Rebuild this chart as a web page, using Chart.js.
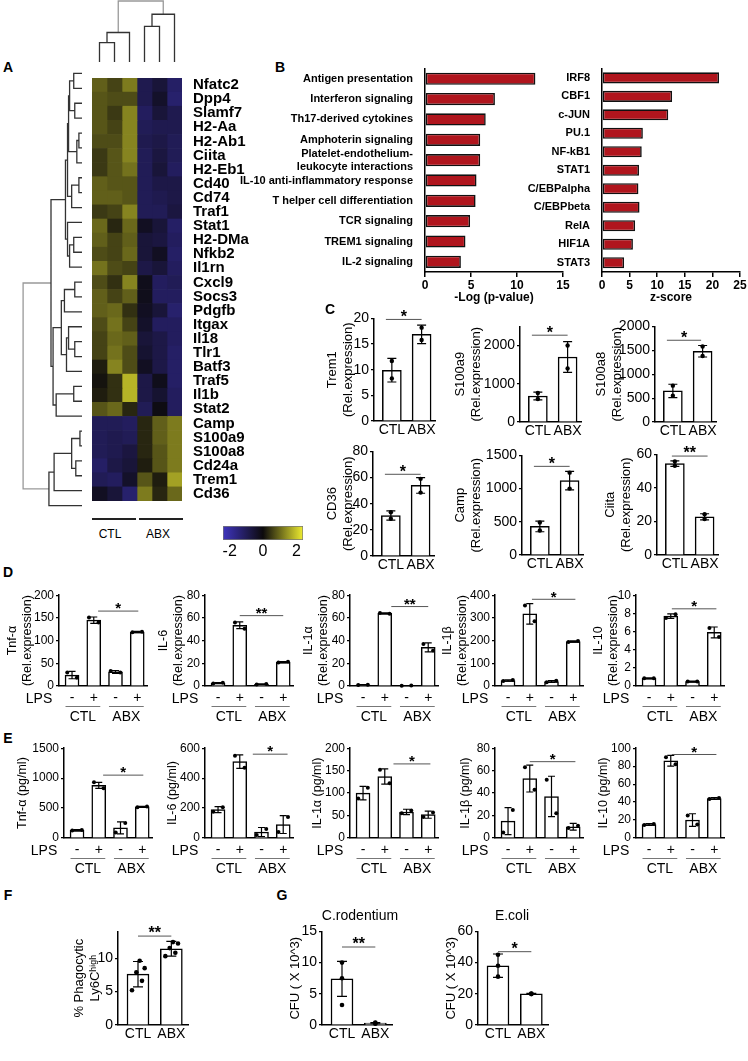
<!DOCTYPE html>
<html>
<head>
<meta charset="utf-8">
<script src="https://cdn.jsdelivr.net/npm/chart.js@4.4.1/dist/chart.umd.min.js"></script>
<style>
  body { margin: 0; width: 748px; height: 1061px; position: relative; background: #fff; overflow: hidden; font-family: Arial, "Liberation Sans", sans-serif; }
  .t { position: absolute; transform: translate(-50%, -50%); white-space: nowrap; color: #000; }
  .hl { position: absolute; height: 0; border-top: 2px solid #222; }
</style>
</head>
<body>
<script>
// ---------- panel A: heatmap ----------
const genes = ['Nfatc2','Dpp4','Slamf7','H2-Aa','H2-Ab1','Ciita','H2-Eb1','Cd40','Cd74','Traf1',
  'Stat1','H2-DMa','Nfkb2','Il1rn','Cxcl9','Socs3','Pdgfb','Itgax','Il18','Tlr1','Batf3',
  'Traf5','Il1b','Stat2','Camp','S100a9','S100a8','Cd24a','Trem1','Cd36'];
const samples = ['CTL1','CTL2','CTL3','ABX1','ABX2','ABX3'];
const zScores = [
  [0.9,0.6,1.2,-0.9,-0.6,-1.2],[0.8,0.7,0.7,-0.9,-0.4,-1.3],[0.8,0.5,1.3,-1.1,-0.6,-0.9],
  [0.8,0.6,1.3,-1.0,-0.9,-0.9],[0.7,0.7,1.3,-0.9,-0.8,-1.0],[0.5,0.8,1.3,-1.0,-0.7,-1.0],
  [0.5,0.8,1.1,-1.0,-0.6,-1.1],[0.9,0.8,0.8,-1.0,-0.8,-0.8],[0.9,0.9,0.8,-1.0,-0.9,-0.8],
  [0.5,0.6,1.3,-1.0,-1.0,-0.7],[1.0,0.3,1.0,-0.3,-0.6,-1.2],[0.9,0.6,0.9,-0.6,-0.7,-1.1],
  [0.7,0.6,1.0,-0.6,-0.3,-1.2],[1.1,0.7,0.6,-0.8,-0.6,-1.1],[0.7,0.4,1.3,-0.2,-1.1,-1.0],
  [0.9,0.6,0.9,-0.2,-1.1,-1.1],[0.9,1.0,0.4,-0.3,-0.6,-1.3],[0.7,1.1,0.6,-0.4,-1.1,-1.1],
  [0.6,1.0,0.9,-0.6,-0.8,-1.1],[0.6,1.1,0.7,-0.5,-0.8,-1.2],[0.2,1.3,0.7,-0.3,-0.8,-1.2],
  [0.1,0.4,1.8,-0.8,-0.2,-1.2],[0.2,0.4,1.8,-0.8,-0.5,-1.1],[0.8,1.0,0.3,-1.0,-0.1,-1.1],
  [-1.0,-1.0,-1.1,0.3,0.9,1.2],[-1.0,-0.9,-1.0,0.3,0.9,1.2],[-1.0,-0.9,-0.7,0.3,0.8,1.2],
  [-1.2,-0.8,-0.6,0.2,0.8,1.2],[-1.0,-1.1,-0.4,0.8,0.2,1.6],[-0.3,-0.6,-1.3,1.2,0.3,1.0]
];
// [left, right, height] nodes, leaves are row / column indices
const geneTree = [
  [
    [[[[[0,1,8],[2,3,7],12],[[4,5,3],6,5],13],[[7,8,3],9,10],14],[10,[[11,12,8],13,12],14],16],
    [[[[14,15,7],16,17],[[17,[18,19,7],13],20,15],20],[[21,22,8],23,25],28],
    30
  ],
  [[[[24,25,2],[26,27,6],10],28,27],29,32],
  57
];
const sampleTree = [[[0,1,19],2,29],[[3,4,35],5,47],60];
const zTicks = [-2, 0, 2];
const zRange = [-2.4, 2.4];

// ---------- panel B ----------
const pathways = ['Antigen presentation','Interferon signaling','Th17-derived cytokines','Amphoterin signaling',
  ['Platelet-endothelium-','leukocyte interactions'],'IL-10 anti-inflammatory response',
  'T helper cell differentiation','TCR signaling','TREM1 signaling','IL-2 signaling'];
const pathwayLogP = [12.0, 7.6, 6.6, 6.0, 6.0, 5.6, 5.5, 4.9, 4.4, 3.9];
const regulators = ['IRF8','CBF1','c-JUN','PU.1','NF-kB1','STAT1','C/EBPalpha','C/EBPbeta','RelA','HIF1A','STAT3'];
const regulatorZ = [21.2, 12.7, 12.0, 7.4, 7.2, 6.7, 6.6, 6.8, 6.0, 5.6, 4.0];

// ---------- panel C ----------
const groups2 = ['CTL','ABX'];
const trem1Mean = [9.9, 16.9], trem1Sd = [2.3, 1.8], trem1Dots = [[11.7, 8.3], [18.2, 15.8]];
const s100a9Mean = [680, 1700], s100a9Sd = [100, 400], s100a9Dots = [[760, 600], [2000, 1400]];
const s100a8Mean = [650, 1480], s100a8Sd = [140, 120], s100a8Dots = [[760, 550], [1580, 1380]];
const cd36Mean = [31, 54], cd36Sd = [3.5, 6], cd36Dots = [[33.5, 28.5], [59, 48.5]];
const campMean = [430, 1120], campSd = [80, 140], campDots = [[490, 370], [1240, 1000]];
const ciitaMean = [54.5, 22.8], ciitaSd = [1.6, 1.8], ciitaDots = [[55.8, 53.2], [24.3, 21.5]];

// ---------- panel D (qPCR, LPS) ----------
const lpsTicks = ['-','+','-','+'];
const dTnfMean = [24, 145, 31, 119], dTnfSd = [8, 7, 3, 1.5], dTnfDots = [[30, 18], [151, 140], [33, 30], [118.5, 119.5]];
const dIl6Mean = [2.5, 53.5, 1.5, 21], dIl6Sd = [0.5, 3, 0.3, 0.6], dIl6Dots = [[2.2, 2.8], [56, 50.5], [1.3, 1.7], [20.6, 21.4]];
const dIl1aMean = [1, 64, 0.3, 34], dIl1aSd = [0.3, 0.5, 0.1, 4], dIl1aDots = [[0.8, 1.2], [64.3, 63.7], [0.2, 0.4], [37, 31]];
const dIl1bMean = [24, 318, 20, 196], dIl1bSd = [3, 45, 4, 3], dIl1bDots = [[22, 26], [355, 285], [17, 23], [194, 198]];
const dIl10Mean = [0.85, 7.7, 0.5, 5.9], dIl10Sd = [0.05, 0.25, 0.05, 0.6], dIl10Dots = [[0.85, 0.85], [7.5, 7.9], [0.5, 0.5], [6.4, 5.4]];

// ---------- panel E (ELISA) ----------
const eTnfMean = [130, 880, 170, 520], eTnfSd = [10, 50, 100, 10], eTnfDots = [[125, 135], [930, 830], [90, 250], [515, 525]];
const eIl6Mean = [190, 510, 40, 90], eIl6Sd = [20, 45, 30, 60], eIl6Dots = [[175, 205], [550, 470], [20, 60], [40, 140]];
const eIl1aMean = [100, 137, 58, 52], eIl1aSd = [15, 17, 6, 8], eIl1aDots = [[88, 112], [152, 122], [55, 61], [47, 57]];
const eIl1bMean = [15, 53, 37, 10], eIl1bSd = [12, 12, 18, 3], eIl1bDots = [[5, 25], [63, 43], [52, 22], [9, 11]];
const eIl10Mean = [15, 86, 20, 44], eIl10Sd = [1, 6, 7, 1], eIl10Dots = [[14.5, 15.5], [90, 82], [25, 15], [43.5, 44.5]];

// ---------- panels F, G ----------
const fMean = [7.6, 11.4], fSd = [1.9, 1.1], fDots = [[5.2, 6.6, 7.9, 8.5, 9.6], [10.3, 10.8, 11.5, 12.2, 12.4]];
const crodMean = [7.4, 0.3], crodSd = [2.8, 0.1], crodDots = [[10, 7.5, 3.2], [0.2, 0.3, 0.4]];
const ecoliMean = [38, 20], ecoliSd = [7.5, 0.3], ecoliDots = [[45, 38, 31], [19.8, 20, 20.2]];

Chart.defaults.animation = false;
Chart.defaults.responsive = false;
Chart.defaults.devicePixelRatio = 1;
Chart.defaults.events = [];
Chart.defaults.font.family = 'Arial, "Liberation Sans", sans-serif';
Chart.defaults.font.size = 13;
Chart.defaults.color = '#000';
Chart.defaults.plugins.legend.display = false;
Chart.defaults.plugins.tooltip.enabled = false;

function canvasAt(l, t, w, h) {
  const c = document.createElement('canvas');
  c.width = w; c.height = h;
  c.style.cssText = `position:absolute;left:${l}px;top:${t}px;width:${w}px;height:${h}px`;
  document.body.appendChild(c);
  return c;
}
function text(s, x, y, css) {
  const d = document.createElement('div');
  d.className = 't';
  d.textContent = s;
  d.style.cssText = `left:${x}px;top:${y}px;${css || ''}`;
  document.body.appendChild(d);
}
function hline(x0, x1, y) {
  const d = document.createElement('div');
  d.className = 'hl';
  d.style.cssText = `left:${x0}px;top:${y}px;width:${x1 - x0}px`;
  document.body.appendChild(d);
}

// blue - black - yellow
function zColor(v) {
  const t = Math.max(-1, Math.min(1, v / 2.4));
  const lo = [12, 10, 12], neg = [62, 52, 190], pos = [238, 236, 48];
  const end = t < 0 ? neg : pos, a = Math.abs(t);
  return `rgb(${lo.map((c, i) => Math.round(c + (end[i] - c) * a)).join(',')})`;
}

// dendrogram -> line segments (NaN breaks the line)
function dendro(tree) {
  const inner = [], root = [];
  function walk(n, out) {
    if (typeof n === 'number') return { p: n, h: 0 };
    const a = walk(n[0], inner), b = walk(n[1], inner);
    out.push({ p: a.p, h: a.h }, { p: a.p, h: n[2] }, { p: b.p, h: n[2] }, { p: b.p, h: b.h }, { p: NaN, h: NaN });
    return { p: (a.p + b.p) / 2, h: n[2] };
  }
  walk(tree, root);
  return { inner, root };
}

function dendroChart(canvas, tree, rows, nLeaves, maxH) {
  const seg = dendro(tree);
  const map = pts => pts.map(q => rows ? { x: q.h, y: q.p } : { x: q.p, y: q.h });
  const ds = (pts, col) => ({ data: map(pts), showLine: true, pointRadius: 0, borderColor: col, borderWidth: 1.3, spanGaps: false, clip: false });
  const leafAxis = { display: false, min: -0.5, max: nLeaves - 0.5, reverse: rows };
  const hAxis = { display: false, min: 0, max: maxH, reverse: rows };
  new Chart(canvas, {
    type: 'scatter',
    data: { datasets: [ds(seg.inner, '#333'), ds(seg.root, '#999')] },
    options: { layout: { padding: 0 }, scales: rows ? { x: hAxis, y: leafAxis } : { x: leafAxis, y: hAxis } }
  });
}

// ---- A ----
text('A', 8, 67, 'font-weight:bold;font-size:14px');
dendroChart(canvasAt(20, 66, 62, 447), geneTree, true, genes.length, 60);
dendroChart(canvasAt(92, 0, 90, 62), sampleTree, false, samples.length, 61);

new Chart(canvasAt(92, 66, 170, 447), {
  type: 'bar',
  data: {
    labels: genes,
    datasets: samples.map((s, j) => ({
      label: s, data: genes.map(() => 1),
      backgroundColor: zScores.map(r => zColor(r[j])),
      borderWidth: 0, barPercentage: 1, categoryPercentage: 1
    }))
  },
  options: {
    indexAxis: 'y',
    layout: { padding: 0 },
    scales: {
      x: { stacked: true, display: false, min: 0, max: samples.length },
      y: { stacked: true, position: 'right', grid: { display: false }, border: { display: false },
           ticks: { font: { size: 15, weight: 'bold' }, padding: 3, autoSkip: false },
           afterFit: s => { s.width = 80; } }
    }
  }
});
hline(92, 136, 518); hline(139, 183, 518);
text('CTL', 110, 534, 'font-size:12px');
text('ABX', 158, 534, 'font-size:12px');

// colour key
new Chart(canvasAt(208, 526, 110, 38), {
  type: 'bar',
  data: {
    labels: [''],
    datasets: [{
      data: [zRange],
      backgroundColor: c => {
        const a = c.chart.chartArea;
        if (!a) return '#000';
        const g = c.chart.ctx.createLinearGradient(a.left, 0, a.right, 0);
        for (let i = 0; i <= 20; i++) g.addColorStop(i / 20, zColor(zRange[0] + (zRange[1] - zRange[0]) * i / 20));
        return g;
      },
      borderColor: '#777', borderWidth: 1, borderSkipped: false, barPercentage: 1, categoryPercentage: 1
    }]
  },
  options: {
    indexAxis: 'y',
    layout: { padding: { left: 15, right: 15 } },
    scales: {
      x: { min: zRange[0], max: zRange[1], afterBuildTicks: s => { s.ticks = zTicks.map(v => ({ value: v })); },
           ticks: { font: { size: 16 }, padding: 2 }, grid: { display: false, drawTicks: false }, border: { display: false },
           afterFit: s => { s.height = 24; } },
      y: { display: false }
    }
  }
});

// ---- B ----
text('B', 280, 67, 'font-weight:bold;font-size:14px');
function hbar(l, w, labels, values, max, title, axisW) {
  new Chart(canvasAt(l, 58, w, 248), {
    type: 'bar',
    data: { labels, datasets: [{ data: values, backgroundColor: '#b0151d', borderColor: '#111', borderWidth: 1.6,
      borderSkipped: false, barPercentage: 0.6, categoryPercentage: 1 }] },
    options: {
      indexAxis: 'y',
      layout: { padding: { top: 10, right: 8 } },
      scales: {
        x: { min: 0, max, ticks: { stepSize: 5, font: { size: 12, weight: 'bold' }, padding: 1 },
             grid: { drawOnChartArea: false, tickLength: 5, color: '#000', lineWidth: 1.5 },
             border: { color: '#000', width: 1.5 },
             title: { display: true, text: title, font: { size: 12, weight: 'bold' }, padding: { top: 0, bottom: 1 } },
             afterFit: s => { s.height = 34; } },
        y: { ticks: { font: { size: 11, weight: 'bold' }, padding: 4, autoSkip: false },
             grid: { display: false }, border: { color: '#000', width: 1.5 },
             afterFit: s => { s.width = axisW; } }
      }
    }
  });
}
hbar(240, 331, pathways, pathwayLogP, 15, '-Log (p-value)', 185);
hbar(525, 223, regulators, regulatorZ, 25, 'z-score', 77);

// ---- bar panels with error bars, dots, significance ----
function overlay(g, d) {
  return {
    id: 'overlay',
    afterDatasetsDraw(chart) {
      const { ctx, scales: { x, y }, chartArea } = chart;
      const step = x.getPixelForValue(1) - x.getPixelForValue(0);
      ctx.save();
      ctx.strokeStyle = '#000'; ctx.fillStyle = '#000'; ctx.lineWidth = 1.2;
      d.mean.forEach((m, i) => {
        const cx = x.getPixelForValue(i);
        const t = y.getPixelForValue(m + d.sd[i]), b = y.getPixelForValue(Math.max(0, m - d.sd[i]));
        ctx.beginPath();
        ctx.moveTo(cx, t); ctx.lineTo(cx, b);
        ctx.moveTo(cx - g.cap, t); ctx.lineTo(cx + g.cap, t);
        ctx.moveTo(cx - g.cap, b); ctx.lineTo(cx + g.cap, b);
        ctx.stroke();
        d.dots[i].forEach((v, k) => {
          const dx = d.jit ? d.jit[k] * step : 0;
          ctx.beginPath(); ctx.arc(cx + dx, y.getPixelForValue(v), g.r, 0, Math.PI * 2); ctx.fill();
        });
      });
      const [txt, a, b, v] = d.sig;
      const x0 = x.getPixelForValue(a), x1 = x.getPixelForValue(b), ly = y.getPixelForValue(v);
      ctx.strokeStyle = '#555'; ctx.lineWidth = 1;
      ctx.beginPath(); ctx.moveTo(x0, ly); ctx.lineTo(x1, ly); ctx.stroke();
      ctx.font = `bold ${g.star}px Arial`; ctx.textAlign = 'center'; ctx.textBaseline = 'alphabetic';
      ctx.fillText(txt, (x0 + x1) / 2, ly + g.star * 0.15);
      if (d.groups) {
        const bot = chartArea.bottom;
        ctx.font = `${g.xfs}px Arial`; ctx.textBaseline = 'middle';
        ctx.fillText('LPS', x.left + g.lpsDx, bot + 13);
        ctx.font = `${g.gfs}px Arial`;
        d.groups.forEach((name, k) => {
          const a0 = x.getPixelForValue(2 * k - 0.3), a1 = x.getPixelForValue(2 * k + 1.3);
          ctx.strokeStyle = '#777'; ctx.lineWidth = 1;
          ctx.beginPath(); ctx.moveTo(a0, bot + 20.5); ctx.lineTo(a1, bot + 20.5); ctx.stroke();
          ctx.fillText(name, (a0 + a1) / 2, bot + 31);
        });
      }
      ctx.restore();
    }
  };
}

function barPanel(g, d) {
  const left = Math.round(g.t1 - g.lh / 2);
  const top = g.top - 9;
  const w = g.right - left + 8;
  const h = g.zero + g.xh - top;
  new Chart(canvasAt(left, top, w, h), {
    type: 'bar',
    data: { datasets: [{ data: d.mean.map((v, i) => ({ x: i, y: v })), backgroundColor: '#fff',
      borderColor: '#000', borderWidth: 1.5, barThickness: g.bw }] },
    options: {
      layout: { padding: { top: 9, right: 8, left: 0, bottom: 0 } },
      scales: {
        x: { type: 'linear', offset: false, min: g.xMin, max: g.xMax,
             afterBuildTicks: s => { s.ticks = d.labels.map((_, i) => ({ value: i })); },
             ticks: { callback: v => d.labels[v], font: { size: g.xfs || g.fs }, padding: g.tp, maxRotation: 0, autoSkip: false },
             grid: { display: false, drawTicks: false }, border: { color: '#000', width: 1.5 },
             afterFit: s => { s.height = g.xh; } },
        y: { min: 0, max: d.yMax,
             afterBuildTicks: s => { s.ticks = s.ticks.filter(t => Math.abs(t.value / d.step - Math.round(t.value / d.step)) < 1e-6); },
             ticks: { stepSize: d.step, font: { size: g.fs }, padding: 2, callback: v => String(v) },
             grid: { drawOnChartArea: false, tickLength: 3, color: '#000', lineWidth: 1.2 },
             border: { color: '#000', width: 1.5 },
             title: { display: true, text: d.title, font: { size: g.tfs, lineHeight: g.lh / g.tfs }, padding: 0 },
             afterFit: s => { s.width = g.ax - left; } }
      }
    },
    plugins: [overlay(g, d)]
  });
}

// ---- C ----
text('C', 330, 309, 'font-weight:bold;font-size:14px');
const cGeo = (ax, t1, top, zero) => ({ ax, t1, top, zero, right: ax + 61, lh: 15.5, fs: 14, tfs: 13, xh: 20, tp: 1,
  bw: 19, cap: 4.5, r: 2.2, star: 16, xMin: -0.6, xMax: 1.45 });
const rel = 'Rel.expression';
barPanel(cGeo(374, 333, 317, 421), { labels: groups2, mean: trem1Mean, sd: trem1Sd, dots: trem1Dots, yMax: 20, step: 5,
  title: ['Trem1', `(${rel})`], sig: ['*', -0.2, 1.0, 19.8] });
barPanel(cGeo(520, 461, 325, 422), { labels: groups2, mean: s100a9Mean, sd: s100a9Sd, dots: s100a9Dots, yMax: 2500, step: 500,
  title: ['S100a9', `(${rel})`], sig: ['*', -0.2, 1.0, 2270] });
barPanel(cGeo(655, 602, 325, 422), { labels: groups2, mean: s100a8Mean, sd: s100a8Sd, dots: s100a8Dots, yMax: 2000, step: 500,
  title: ['S100a8', `(${rel})`], sig: ['*', -0.2, 0.95, 1710] });
barPanel(cGeo(373, 333, 450, 556), { labels: groups2, mean: cd36Mean, sd: cd36Sd, dots: cd36Dots, yMax: 80, step: 20,
  title: ['CD36', `(${rel})`], sig: ['*', -0.2, 1.0, 62.5] });
barPanel(cGeo(522, 461, 454, 555), { labels: groups2, mean: campMean, sd: campSd, dots: campDots, yMax: 1500, step: 500,
  title: ['Camp', `(${rel})`], sig: ['*', -0.2, 1.0, 1335] });
barPanel(cGeo(657, 611, 453, 555), { labels: groups2, mean: ciitaMean, sd: ciitaSd, dots: ciitaDots, yMax: 60, step: 20,
  title: ['Ciita', `(${rel})`], sig: ['**', -0.1, 1.1, 59] });

// ---- D ----
text('D', 8, 572, 'font-weight:bold;font-size:14px');
const lpsGroups = ['CTL', 'ABX'];
const dGeo = (ax, t1, top, zero) => ({ ax, t1, top, zero, right: ax + 88, lh: 15, fs: 12, xfs: 14, tfs: 12.5, gfs: 14, xh: 40, tp: 4,
  bw: 14, cap: 3.5, r: 2, star: 15, xMin: -0.6, xMax: 3.45, lpsDx: -20 });
const jit2 = [-0.22, 0.22];
barPanel(dGeo(59, 12, 595, 686), { labels: lpsTicks, mean: dTnfMean, sd: dTnfSd, dots: dTnfDots, yMax: 200, step: 50, jit: jit2,
  groups: lpsGroups, title: ['Tnf-α', `(${rel})`], sig: ['*', 1.2, 3.05, 165] });
barPanel(dGeo(205, 163, 595, 686), { labels: lpsTicks, mean: dIl6Mean, sd: dIl6Sd, dots: dIl6Dots, yMax: 80, step: 20, jit: jit2,
  groups: lpsGroups, title: ['IL-6', `(${rel})`], sig: ['**', 1.0, 3.0, 62] });
barPanel(dGeo(350, 308, 595, 686), { labels: lpsTicks, mean: dIl1aMean, sd: dIl1aSd, dots: dIl1aDots, yMax: 80, step: 20, jit: jit2,
  groups: lpsGroups, title: ['IL-1α', `(${rel})`], sig: ['**', 1.3, 3.0, 70] });
barPanel(dGeo(495, 447, 595, 686), { labels: lpsTicks, mean: dIl1bMean, sd: dIl1bSd, dots: dIl1bDots, yMax: 400, step: 100, jit: jit2,
  groups: lpsGroups, title: ['IL-1β', `(${rel})`], sig: ['*', 1.1, 3.1, 382] });
barPanel(dGeo(636, 598, 595, 686), { labels: lpsTicks, mean: dIl10Mean, sd: dIl10Sd, dots: dIl10Dots, yMax: 10, step: 2, jit: jit2,
  groups: lpsGroups, title: ['IL-10', `(${rel})`], sig: ['*', 1.05, 3.1, 8.5] });

// ---- E ----
text('E', 8, 738, 'font-weight:bold;font-size:14px');
const eGeo = (ax, t1) => dGeo(ax, t1, 748, 838);
barPanel(eGeo(64, 22), { labels: lpsTicks, mean: eTnfMean, sd: eTnfSd, dots: eTnfDots, yMax: 1500, step: 500, jit: jit2,
  groups: lpsGroups, title: 'Tnf-α (pg/ml)', sig: ['*', 1.2, 3.05, 1050] });
barPanel(eGeo(205, 172), { labels: lpsTicks, mean: eIl6Mean, sd: eIl6Sd, dots: eIl6Dots, yMax: 600, step: 200, jit: jit2,
  groups: lpsGroups, title: 'IL-6 (pg/ml)', sig: ['*', 1.6, 3.2, 560] });
barPanel(eGeo(350, 317), { labels: lpsTicks, mean: eIl1aMean, sd: eIl1aSd, dots: eIl1aDots, yMax: 200, step: 50, jit: jit2,
  groups: lpsGroups, title: 'IL-1α (pg/ml)', sig: ['*', 1.4, 3.1, 165] });
barPanel(eGeo(495, 465), { labels: lpsTicks, mean: eIl1bMean, sd: eIl1bSd, dots: eIl1bDots, yMax: 80, step: 20, jit: jit2,
  groups: lpsGroups, title: 'IL-1β (pg/ml)', sig: ['*', 1.0, 3.1, 68] });
barPanel(eGeo(636, 603), { labels: lpsTicks, mean: eIl10Mean, sd: eIl10Sd, dots: eIl10Dots, yMax: 100, step: 20, jit: jit2,
  groups: lpsGroups, title: 'IL-10 (pg/ml)', sig: ['*', 1.05, 3.1, 93] });

// ---- F, G ----
text('F', 8, 895, 'font-weight:bold;font-size:14px');
text('G', 282, 895, 'font-weight:bold;font-size:14px');
const fgGeo = (ax, t1) => ({ ax, t1, top: 930, zero: 1025, right: ax + 70, lh: 15.5, fs: 14, tfs: 13, xh: 22, tp: 1,
  bw: 22, cap: 5, r: 2.3, star: 16, xMin: -0.6, xMax: 1.5 });
barPanel(fgGeo(118, 80), { labels: groups2, mean: fMean, sd: fSd, dots: fDots, yMax: 14, step: 5,
  jit: [-0.18, 0.12, -0.05, 0.2, 0.05], title: ['% Phagocytic', 'Ly6Cʰⁱᵍʰ'], sig: ['**', 0.0, 1.0, 13.3] });
barPanel(fgGeo(322, 296), { labels: groups2, mean: crodMean, sd: crodSd, dots: crodDots, yMax: 15, step: 5,
  title: 'CFU ( X 10^3)', sig: ['**', 0.0, 1.0, 12.5] });
barPanel(fgGeo(478, 452), { labels: groups2, mean: ecoliMean, sd: ecoliSd, dots: ecoliDots, yMax: 60, step: 10,
  title: 'CFU ( X 10^3)', sig: ['*', 0.0, 1.0, 47] });
text('C.rodentium', 360, 915, 'font-size:14px');
text('E.coli', 512, 915, 'font-size:14px');
</script>
</body>
</html>
